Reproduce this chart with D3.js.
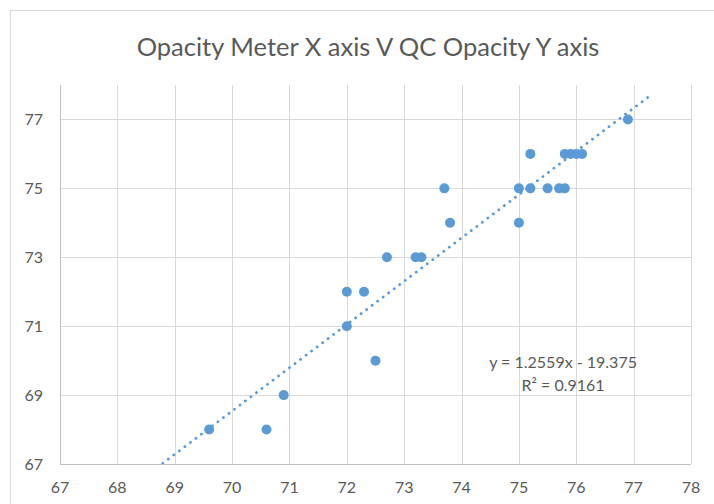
<!DOCTYPE html>
<html>
<head>
<meta charset="utf-8">
<script src="https://cdn.jsdelivr.net/npm/d3@7"></script>
<style>
    body { margin: 0; background: #fff; }
    text { font-family: Lato, "Open Sans", sans-serif; fill: #595959; }
</style>
</head>
<body>
<div id="chart"></div>
<script>
// Dimensions
const width = 714;
const height = 504;
const margin = { top: 85, right: 23, bottom: 40, left: 60 };

// Data: opacity meter readings (x) against QC opacity (y)
const meterX = [69.6, 70.6, 70.9, 72.0, 72.0, 72.3, 72.5, 72.7, 73.2, 73.3, 73.7, 73.8,
    75.0, 75.0, 75.2, 75.2, 75.5, 75.7, 75.8, 75.8, 75.9, 76.0, 76.1, 76.9];
const qcY = [68, 68, 69, 71, 72, 72, 70, 73, 73, 73, 75, 74,
    75, 74, 76, 75, 75, 75, 75, 76, 76, 76, 76, 77];

// Trendline (linear, as reported on the chart)
const trendSlope = 1.2559;
const trendIntercept = -19.375;
const trendRange = [68.6, 77.26];
const trendLabels = ['y = 1.2559x - 19.375', 'R² = 0.9161'];

// Axis ticks
const xTicks = [67, 68, 69, 70, 71, 72, 73, 74, 75, 76, 77, 78];
const yTicks = [67, 69, 71, 73, 75, 77];

const title = 'Opacity Meter X axis V QC Opacity Y axis';
const blue = '#5b9bd5';

const svg = d3.select('#chart').append('svg')
    .attr('width', width)
    .attr('height', height);

// Chart area border
svg.append('rect')
    .attr('x', 10.5)
    .attr('y', 10.5)
    .attr('width', width)
    .attr('height', height)
    .attr('fill', '#fff')
    .attr('stroke', '#d9d9d9');

const x = d3.scaleLinear()
    .domain([67, 78])
    .range([margin.left, width - margin.right]);

const y = d3.scaleLinear()
    .domain([67, 78])
    .range([height - margin.bottom, margin.top]);

// Gridlines
svg.append('g')
    .selectAll('line')
    .data(xTicks)
    .enter()
    .append('line')
    .attr('x1', d => Math.round(x(d)) + 0.5)
    .attr('x2', d => Math.round(x(d)) + 0.5)
    .attr('y1', margin.top)
    .attr('y2', y(67))
    .attr('stroke', '#d9d9d9');

svg.append('g')
    .selectAll('line')
    .data(yTicks)
    .enter()
    .append('line')
    .attr('x1', x(67))
    .attr('x2', x(78))
    .attr('y1', d => Math.round(y(d)) + 0.5)
    .attr('y2', d => Math.round(y(d)) + 0.5)
    .attr('stroke', '#d9d9d9');

// Axis lines
svg.append('line')
    .attr('x1', Math.round(x(67)) + 0.5)
    .attr('x2', Math.round(x(67)) + 0.5)
    .attr('y1', margin.top)
    .attr('y2', Math.round(y(67)) + 0.5)
    .attr('stroke', '#bfbfbf');

svg.append('line')
    .attr('x1', x(67))
    .attr('x2', x(78))
    .attr('y1', Math.round(y(67)) + 0.5)
    .attr('y2', Math.round(y(67)) + 0.5)
    .attr('stroke', '#bfbfbf');

// Tick labels
svg.append('g')
    .selectAll('text')
    .data(xTicks)
    .enter()
    .append('text')
    .attr('x', d => x(d))
    .attr('y', y(67) + 29)
    .attr('text-anchor', 'middle')
    .style('font-size', '16px')
    .text(d => d);

svg.append('g')
    .selectAll('text')
    .data(yTicks)
    .enter()
    .append('text')
    .attr('x', x(67) - 17)
    .attr('y', d => y(d) + 5.5)
    .attr('text-anchor', 'end')
    .style('font-size', '16px')
    .text(d => d);

// Title
svg.append('text')
    .attr('x', 368)
    .attr('y', 56)
    .attr('text-anchor', 'middle')
    .style('font-size', '25.5px')
    .text(title);

// Clip for the trendline
svg.append('clipPath')
    .attr('id', 'plot-clip')
    .append('rect')
    .attr('x', x(67))
    .attr('y', 0)
    .attr('width', x(78) - x(67))
    .attr('height', y(67));

// Trendline, round dotted
const trendPoints = trendRange.map(v => [v, trendSlope * v + trendIntercept]);
svg.append('path')
    .datum(trendPoints)
    .attr('clip-path', 'url(#plot-clip)')
    .attr('d', d3.line().x(d => x(d[0])).y(d => y(d[1])))
    .attr('fill', 'none')
    .attr('stroke', blue)
    .attr('stroke-width', 2.8)
    .attr('stroke-linecap', 'round')
    .attr('stroke-dasharray', '0.1 6.8');

// Points
svg.append('g')
    .selectAll('circle')
    .data(meterX.map((v, i) => [v, qcY[i]]))
    .enter()
    .append('circle')
    .attr('cx', d => x(d[0]))
    .attr('cy', d => y(d[1]))
    .attr('r', 5)
    .attr('fill', blue);

// Trendline equation label
svg.append('g')
    .selectAll('text')
    .data(trendLabels)
    .enter()
    .append('text')
    .attr('x', x(75.77))
    .attr('y', (d, i) => y(69.95) + 6 + i * 23)
    .attr('text-anchor', 'middle')
    .style('font-size', '16px')
    .text(d => d);
</script>
</body>
</html>
